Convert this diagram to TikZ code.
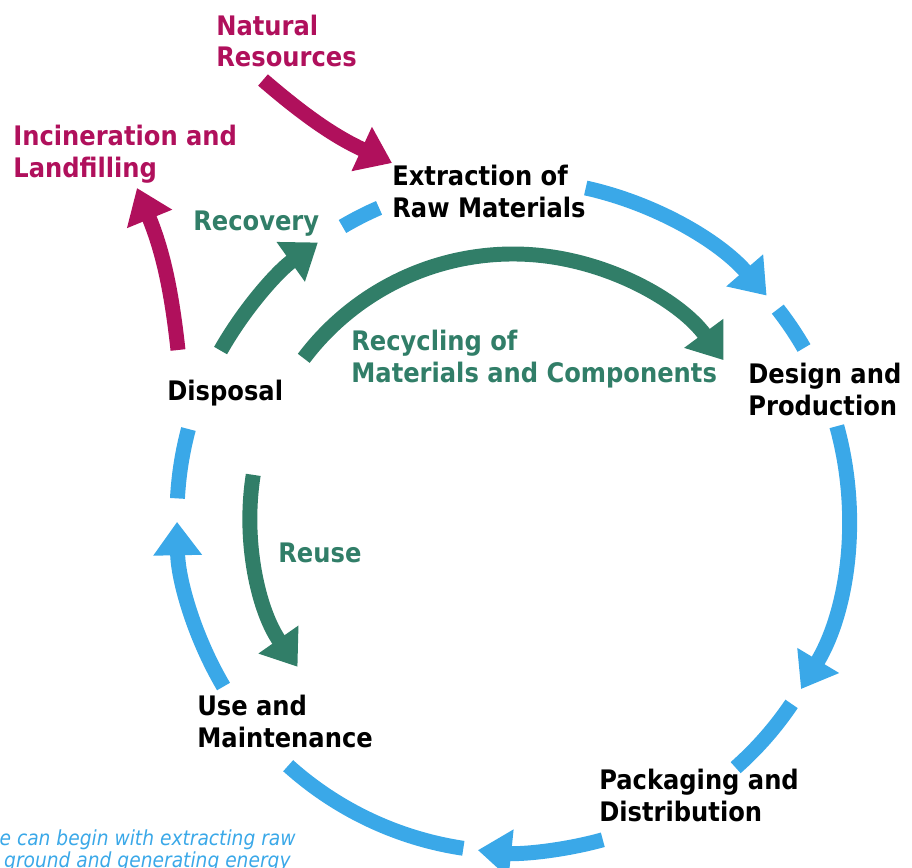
\documentclass[tikz,border=0pt]{standalone}
\usepackage{fontspec}
\setmainfont{DejaVu Sans Condensed}
\usetikzlibrary{arrows.meta}
\definecolor{cycleblue}{RGB}{58,168,232}
\definecolor{loopgreen}{RGB}{49,126,104}
\definecolor{wastered}{RGB}{176,16,92}

\begin{document}
\begin{tikzpicture}[%
    x=0.02cm, y=0.02cm,
stage/.style={anchor=base west, align=left, inner sep=0pt, font=\bfseries\fontsize{15.3}{17.8}\selectfont},
greentext/.style={stage, text=loopgreen},
redtext/.style={stage, text=wastered},
note/.style={inner sep=0pt, anchor=base east, text=cycleblue, font=\itshape\fontsize{11.8}{12}\selectfont},
ring/.style={line width=8.5pt, draw=cycleblue},
ringarrow/.style={ring, -{Triangle[width=26.5pt,length=19pt]}},
greenarrow/.style={line width=8.5pt, draw=loopgreen, -{Triangle[width=26.5pt,length=19pt]}},
redarrow/.style={line width=8.5pt, draw=wastered, -{Triangle[width=26.5pt,length=19pt]}}
]
\useasboundingbox (0,0) rectangle (912,-868);
\clip (0,0) rectangle (912,-868);

% centre of the life cycle
\coordinate (c) at (513,-516);

% stage nodes (placed at the baseline of their last line)
\node[stage]      (extraction) at (392,-217) {Extraction of\\Raw Materials};
\node[stage]      (design)     at (748,-415) {Design and\\Production};
\node[stage]      (packaging)  at (599,-821) {Packaging and\\Distribution};
\node[stage]      (use)        at (197,-747) {Use and\\Maintenance};
\node[stage]      (disposal)   at (167,-400) {Disposal};

% loop labels
\node[greentext]  (recovery)   at (193,-231) {Recovery};
\node[greentext]  (recycling)  at (351,-382) {Recycling of\\Materials and Components};
\node[greentext]  (reuse)      at (278,-562) {Reuse};

% in and out
\node[redtext]    (natural)      at (216,-67)  {Natural\\Resources};
\node[redtext]    (incineration) at (13,-177)  {Incineration and\\Landfilling};

% note, cut by the frame
\node[note] (note1) at (296,-845) {We can begin with extracting raw};
\node[note] (note2) at (291,-867) {ground and generating energy};

% blue cycle
\draw[ringarrow] ([shift={(77.5:336)}]c) arc[start angle=77.5, end angle=41, radius=336];
\draw[ring]      ([shift={(38:336)}]c) arc[start angle=38, end angle=30, radius=336];
\draw[ringarrow] ([shift={(15.5:336)}]c) arc[start angle=15.5, end angle=-31, radius=336];
\draw[ring]      ([shift={(-34:336)}]c) arc[start angle=-34, end angle=-48.5, radius=336];
\draw[ringarrow] ([shift={(-74.5:336)}]c) arc[start angle=-74.5, end angle=-96, radius=336];
\draw[ring]      ([shift={(-98.5:336)}]c) arc[start angle=-98.5, end angle=-132, radius=336];
\draw[ringarrow] ([shift={(-149.5:336)}]c) arc[start angle=-149.5, end angle=-179, radius=336];
\draw[ring]      ([shift={(177:336)}]c) arc[start angle=177, end angle=165, radius=336];
\draw[ring]      ([shift={(120.5:336)}]c) arc[start angle=120.5, end angle=113.5, radius=336];

% green loops
\draw[greenarrow] ([shift={(150.5:336)}]c) arc[start angle=150.5, end angle=125.5, radius=336];
\draw[greenarrow] ([shift={(143:262)}]c) arc[start angle=143, end angle=36.5, radius=262];
\draw[greenarrow] ([shift={(171:263)}]c) arc[start angle=171, end angle=215, radius=263];

% magenta lines
\coordinate (natural-out) at (263,-80);
\coordinate (natural-in)  at (392,-163);
\coordinate (burn-out)    at (178,-350);
\coordinate (burn-in)     at (137,-188);
\draw[redarrow] (natural-out) to[bend right=8] (natural-in);
\draw[redarrow] (burn-out) to[bend right=8] (burn-in);

\end{tikzpicture}
\end{document}
